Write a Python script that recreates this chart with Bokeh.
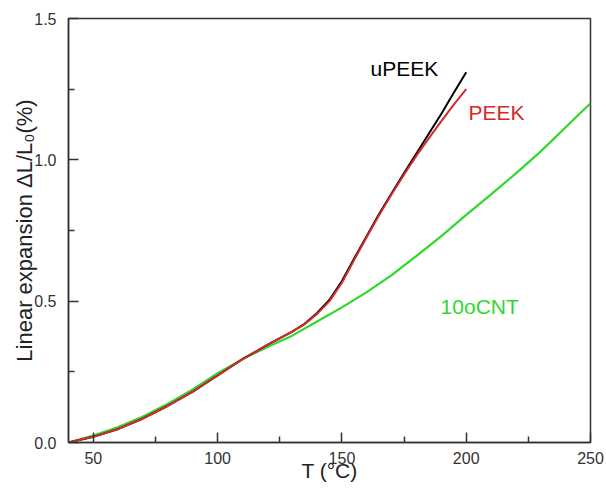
from bokeh.embed import file_html
from bokeh.models import FixedTicker, Label, PrintfTickFormatter, Range1d
from bokeh.plotting import figure
from bokeh.resources import INLINE

# Temperature (°C) and linear expansion ΔL/L0 (%) for each sample
temp_peek = [40, 50, 60, 70, 80, 90, 100, 110, 120, 130, 135, 140, 145, 150,
             155, 160, 165, 170, 175, 180, 185, 190, 195, 200]
expansion_peek = [0.0, 0.02, 0.048, 0.085, 0.13, 0.18, 0.237, 0.295, 0.345, 0.392,
                  0.418, 0.455, 0.50, 0.565, 0.647, 0.727, 0.805, 0.878, 0.948,
                  1.015, 1.077, 1.137, 1.195, 1.25]
expansion_upeek = [0.0, 0.02, 0.048, 0.085, 0.13, 0.18, 0.237, 0.295, 0.345, 0.392,
                   0.42, 0.458, 0.505, 0.571, 0.652, 0.731, 0.809, 0.882, 0.953,
                   1.023, 1.093, 1.163, 1.237, 1.31]

temp_cnt = [40, 50, 60, 70, 80, 90, 100, 110, 120, 130, 140, 150, 160, 170,
            180, 190, 200, 210, 220, 230, 240, 250]
expansion_cnt = [0.0, 0.025, 0.055, 0.092, 0.137, 0.188, 0.245, 0.295, 0.338, 0.378,
                 0.428, 0.478, 0.532, 0.592, 0.66, 0.73, 0.805, 0.878, 0.952, 1.03,
                 1.115, 1.20]

x_ticks = [50, 100, 150, 200, 250]
x_minor = [75, 125, 175, 225]
y_ticks = [0.0, 0.5, 1.0, 1.5]
y_minor = [0.25, 0.75, 1.25]

FONT = "Liberation Sans"
AXIS_COLOR = "#333333"
BLACK = "#000000"
RED = "#d42a2a"
GREEN = "#2ed82e"

p = figure(
    frame_width=522, frame_height=424,
    min_border_left=68, min_border_right=16, min_border_top=18, min_border_bottom=47,
    x_range=Range1d(40, 250), y_range=Range1d(0, 1.5),
    output_backend="svg", toolbar_location=None,
)
p.xgrid.visible = False
p.ygrid.visible = False
p.outline_line_color = AXIS_COLOR
p.outline_line_width = 1.5
p.background_fill_color = "white"
p.border_fill_color = "white"

p.xaxis.ticker = FixedTicker(ticks=x_ticks, minor_ticks=x_minor)
p.yaxis.ticker = FixedTicker(ticks=y_ticks, minor_ticks=y_minor)
p.xaxis.formatter = PrintfTickFormatter(format="%d")
p.yaxis.formatter = PrintfTickFormatter(format="%.1f")

for ax in (p.xaxis[0], p.yaxis[0]):
    ax.axis_line_color = AXIS_COLOR
    ax.axis_line_width = 1.5
    ax.major_tick_line_color = AXIS_COLOR
    ax.minor_tick_line_color = AXIS_COLOR
    ax.major_tick_line_width = 1.5
    ax.minor_tick_line_width = 1.5
    ax.major_tick_in = 10
    ax.major_tick_out = 0
    ax.minor_tick_in = 6
    ax.minor_tick_out = 0
    ax.major_label_text_font = FONT
    ax.major_label_text_font_size = "16px"
    ax.major_label_text_color = "#333333"
    ax.axis_label_text_font = FONT
    ax.axis_label_text_font_style = "normal"
    ax.axis_label_text_color = "#222222"
p.yaxis.major_label_standoff = 12
p.xaxis.major_label_standoff = 9

p.xaxis.axis_label = "T (°C)"
p.xaxis.axis_label_text_font_size = "21px"
p.xaxis.axis_label_standoff = -8

p.yaxis.axis_label = "Linear expansion ΔL/L₀(%)"
p.yaxis.axis_label_text_font_size = "22px"
p.yaxis.axis_label_standoff = -6

# curves
p.line(temp_cnt, expansion_cnt, line_color=GREEN, line_width=2.2)
p.line(temp_peek, expansion_upeek, line_color=BLACK, line_width=2)
p.line(temp_peek, expansion_peek, line_color=RED, line_width=2)

# curve names
for text, x, y, color in (("uPEEK", 161.5, 1.323, BLACK),
                          ("PEEK", 200.9, 1.167, RED),
                          ("10oCNT", 189.7, 0.481, GREEN)):
    p.add_layout(Label(x=x, y=y, text=text, text_color=color, text_font=FONT,
                       text_font_size="21px", text_baseline="middle", text_align="left"))

open("out.html", "w").write(file_html(p, INLINE))
